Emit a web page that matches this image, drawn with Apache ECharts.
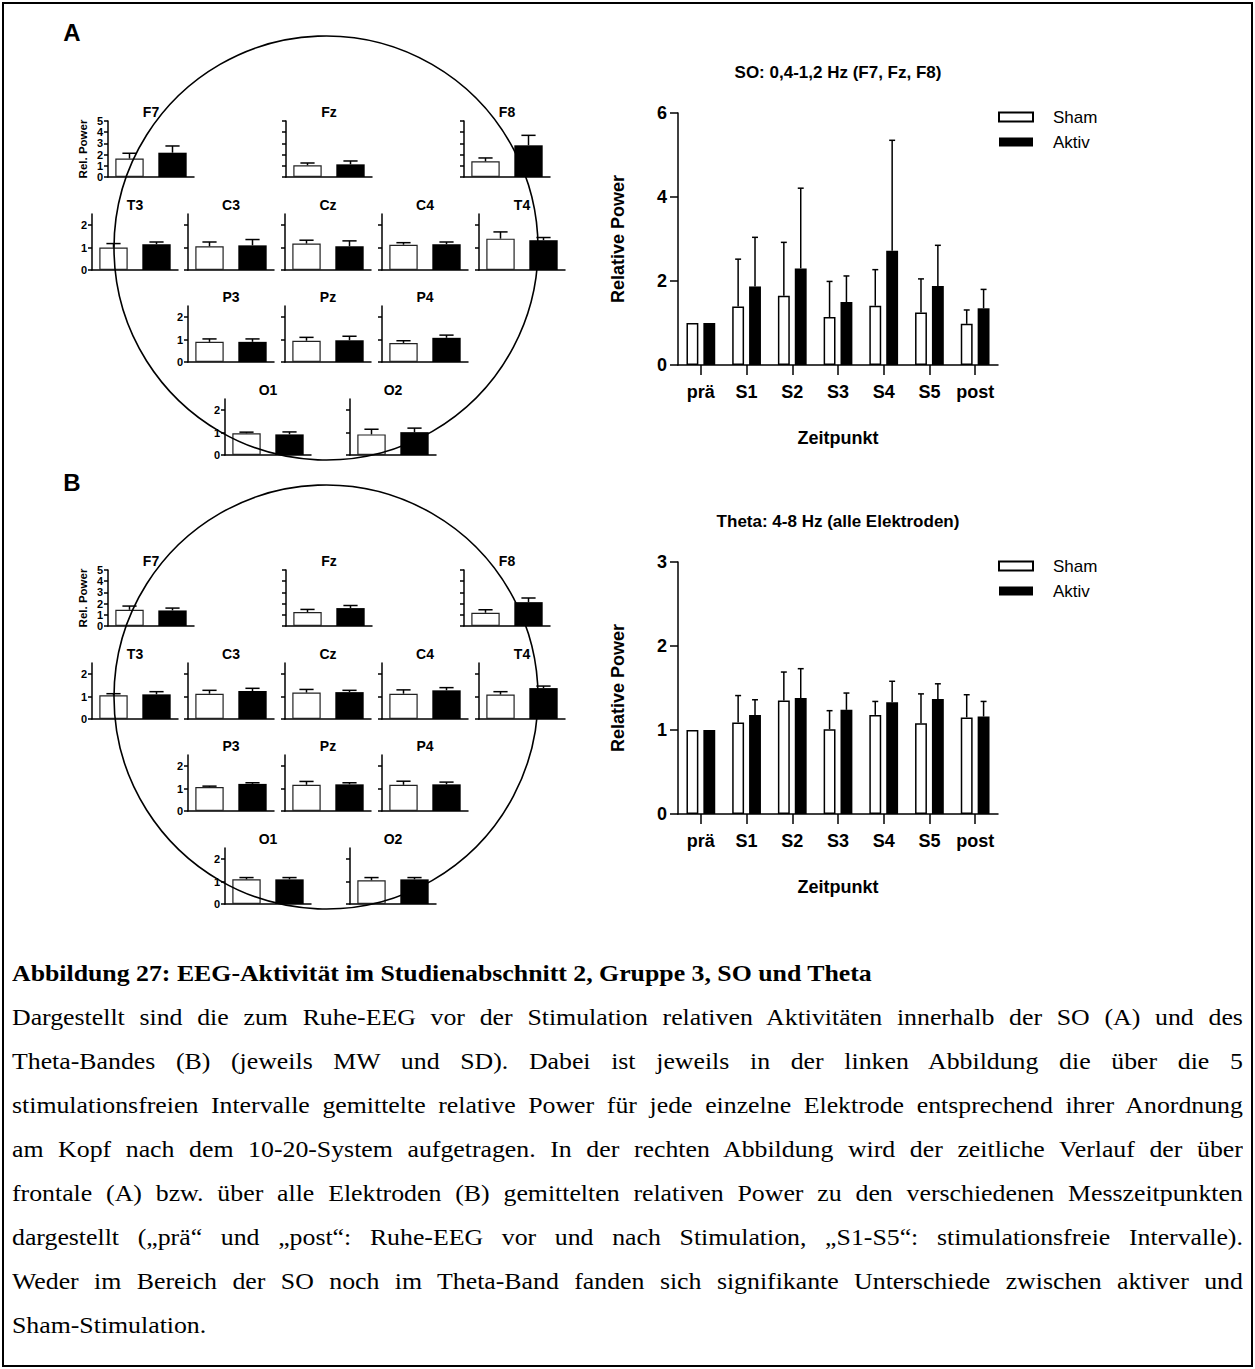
<!DOCTYPE html>
<html>
<head>
<meta charset="utf-8">
<script src="https://cdn.jsdelivr.net/npm/echarts@6/dist/echarts.min.js"></script>
<style>
  html, body { margin: 0; padding: 0; background: #fff; }
  #page { position: relative; width: 1255px; height: 1369px; overflow: hidden; background: #fff; }
  #frame { position: absolute; left: 2px; top: 2px; width: 1251px; height: 1365px; border: 2px solid #000; box-sizing: border-box; pointer-events: none; }
  #chart { position: absolute; left: 0; top: 0; width: 1255px; height: 940px; }
  #caption { position: absolute; left: 12px; top: 951px; width: 1145px; transform: scaleX(1.075); transform-origin: 0 0;
             font-family: 'Liberation Serif', 'Times New Roman', serif; font-size: 24px; color: #000; }
  #caption .ln { height: 44px; line-height: 44px; text-align: justify; text-align-last: justify; white-space: nowrap; }
  #caption .head { height: 44px; line-height: 44px; font-weight: bold; white-space: nowrap; }
  #caption .last { text-align-last: left; }
</style>
</head>
<body>
<div id="page">
  <div id="chart"></div>
  <div id="caption">
    <div class="head">Abbildung 27: EEG-Aktivität im Studienabschnitt 2, Gruppe 3, SO und Theta</div>
    <div class="ln">Dargestellt sind die zum Ruhe-EEG vor der Stimulation relativen Aktivitäten innerhalb der SO (A) und des</div>
    <div class="ln">Theta-Bandes (B) (jeweils MW und SD). Dabei ist jeweils in der linken Abbildung die über die 5</div>
    <div class="ln">stimulationsfreien Intervalle gemittelte relative Power für jede einzelne Elektrode entsprechend ihrer Anordnung</div>
    <div class="ln">am Kopf nach dem 10-20-System aufgetragen. In der rechten Abbildung wird der zeitliche Verlauf der über</div>
    <div class="ln">frontale (A) bzw. über alle Elektroden (B) gemittelten relativen Power zu den verschiedenen Messzeitpunkten</div>
    <div class="ln">dargestellt („prä“ und „post“: Ruhe-EEG vor und nach Stimulation, „S1-S5“: stimulationsfreie Intervalle).</div>
    <div class="ln">Weder im Bereich der SO noch im Theta-Band fanden sich signifikante Unterschiede zwischen aktiver und</div>
    <div class="ln last">Sham-Stimulation.</div>
  </div>
  <div id="frame"></div>
</div>
<script>
// ---- data ----------------------------------------------------------------
const groups = ['Sham', 'Aktiv'];
const electrodes = ['F7', 'Fz', 'F8', 'T3', 'C3', 'Cz', 'C4', 'T4', 'P3', 'Pz', 'P4', 'O1', 'O2'];

// SO band, mean over the 5 stimulation-free intervals (MW, SD)
const soShamMean  = [1.65, 1.05, 1.40, 1.00, 1.06, 1.18, 1.13, 1.40, 0.90, 0.95, 0.85, 0.97, 0.92];
const soShamSD    = [0.47, 0.20, 0.30, 0.18, 0.19, 0.15, 0.09, 0.30, 0.13, 0.15, 0.10, 0.05, 0.23];
const soAktivMean = [2.17, 1.13, 2.83, 1.15, 1.10, 1.06, 1.15, 1.33, 0.90, 0.97, 1.08, 0.92, 1.02];
const soAktivSD   = [0.60, 0.30, 0.89, 0.10, 0.26, 0.24, 0.10, 0.12, 0.13, 0.18, 0.12, 0.11, 0.18];

// Theta band
const thShamMean  = [1.45, 1.24, 1.18, 1.06, 1.13, 1.18, 1.13, 1.09, 1.07, 1.17, 1.17, 1.10, 1.06];
const thShamSD    = [0.33, 0.24, 0.27, 0.07, 0.15, 0.14, 0.17, 0.13, 0.04, 0.15, 0.16, 0.08, 0.12];
const thAktivMean = [1.39, 1.60, 2.13, 1.10, 1.25, 1.20, 1.28, 1.38, 1.21, 1.19, 1.19, 1.10, 1.10];
const thAktivSD   = [0.21, 0.23, 0.37, 0.12, 0.12, 0.08, 0.12, 0.09, 0.05, 0.07, 0.10, 0.08, 0.08];

// Time course
const timepoints = ['prä', 'S1', 'S2', 'S3', 'S4', 'S5', 'post'];
const soTimeShamMean  = [1.00, 1.39, 1.65, 1.14, 1.41, 1.25, 0.98];
const soTimeShamSD    = [0.00, 1.13, 1.27, 0.85, 0.86, 0.80, 0.33];
const soTimeAktivMean = [1.00, 1.87, 2.30, 1.50, 2.72, 1.88, 1.35];
const soTimeAktivSD   = [0.00, 1.17, 1.91, 0.62, 2.63, 0.97, 0.45];
const thTimeShamMean  = [1.00, 1.09, 1.35, 1.01, 1.18, 1.08, 1.15];
const thTimeShamSD    = [0.00, 0.32, 0.34, 0.22, 0.16, 0.35, 0.27];
const thTimeAktivMean = [1.00, 1.18, 1.38, 1.24, 1.33, 1.37, 1.16];
const thTimeAktivSD   = [0.00, 0.18, 0.35, 0.20, 0.25, 0.18, 0.18];

const headTickLabels = [0, 1, 2];

// ---- layout ----------------------------------------------------------------
const FONT = "'Liberation Sans', Arial, Helvetica, sans-serif";
const INK = '#000';

// 10-20 placement of the small plots (left edge of each plot, row index)
const slots = [
  { left: 108, row: 0 }, { left: 286, row: 0 }, { left: 464, row: 0 },
  { left: 92, row: 1 }, { left: 188, row: 1 }, { left: 285, row: 1 }, { left: 382, row: 1 }, { left: 479, row: 1 },
  { left: 188, row: 2 }, { left: 285, row: 2 }, { left: 382, row: 2 },
  { left: 225, row: 3 }, { left: 350, row: 3 }
];
const rowZero = [177, 270, 362, 455];
const rowMax = [5, 2.5, 2.5, 2.5];
const PLOT_W = 86, PLOT_H = 56;
const labelled = [0, 3, 8, 11];

const option = {
  animation: false,
  backgroundColor: '#fff',
  grid: [], xAxis: [], yAxis: [], series: [], legend: [],
  graphic: { elements: [] }
};

function txt(x, y, text, size, weight, align) {
  return {
    type: 'text', x: x, y: y, z: 50, silent: true,
    style: {
      text: text, fill: INK, fontFamily: FONT, fontSize: size, fontWeight: weight || 'bold',
      align: align || 'center', verticalAlign: 'middle',
      textAlign: align || 'center', textVerticalAlign: 'middle'
    }
  };
}

// upward SD whiskers with cap, placed from the series' own axes
function errorSeries(axisIdx, rows, offsetFrac, capFrac) {
  return {
    type: 'custom', xAxisIndex: axisIdx, yAxisIndex: axisIdx, z: 5, silent: true,
    data: rows, encode: { x: 0, y: 1 },
    renderItem: function (params, api) {
      const sd = api.value(2);
      if (!sd) return;
      const band = api.size([1, 0])[0];
      const base = api.coord([api.value(0), api.value(1)]);
      const top = api.coord([api.value(0), api.value(1) + sd]);
      const x = base[0] + band * offsetFrac;
      const half = band * capFrac / 2;
      const st = { stroke: INK, lineWidth: 1.5 };
      return {
        type: 'group', children: [
          { type: 'line', shape: { x1: x, y1: base[1], x2: x, y2: top[1] }, style: st },
          { type: 'line', shape: { x1: x - half, y1: top[1], x2: x + half, y2: top[1] }, style: st }
        ]
      };
    }
  };
}

function addHead(dy, shamM, shamS, aktM, aktS) {
  electrodes.forEach(function (name, i) {
    const s = slots[i];
    const idx = option.grid.length;
    const top = rowZero[s.row] - PLOT_H + dy;
    option.grid.push({ left: s.left, top: top, width: PLOT_W, height: PLOT_H, outerBoundsMode: 'none' });
    option.xAxis.push({
      type: 'category', gridIndex: idx, data: groups, boundaryGap: true,
      axisLine: { show: true, lineStyle: { color: INK, width: 1.5 } },
      axisTick: { show: false }, axisLabel: { show: false }, splitLine: { show: false }
    });
    const max = rowMax[s.row];
    const showLab = labelled.indexOf(i) >= 0;
    const yAx = {
      type: 'value', gridIndex: idx, min: 0, max: max, interval: 1,
      axisLine: { show: true, lineStyle: { color: INK, width: 1.5 } },
      axisTick: { show: true, inside: false, length: 4, lineStyle: { color: INK, width: 1.5 } },
      axisLabel: { show: showLab, color: INK, fontFamily: FONT, fontWeight: 'bold', fontSize: 11, margin: 5 },
      splitLine: { show: false }
    };
    if (max !== 5) {
      yAx.axisTick.customValues = headTickLabels;
      yAx.axisLabel.customValues = headTickLabels;
    }
    if (i === 0) {
      yAx.name = 'Rel. Power';
      yAx.nameLocation = 'middle';
      yAx.nameRotate = 90;
      yAx.nameGap = 19;
      yAx.nameTextStyle = { color: INK, fontFamily: FONT, fontWeight: 'bold', fontSize: 11.5 };
    }
    option.yAxis.push(yAx);
    option.series.push({
      type: 'bar', xAxisIndex: idx, yAxisIndex: idx, barWidth: '66%', silent: true,
      data: [
        { value: shamM[i], itemStyle: { color: '#fff', borderColor: '#222', borderWidth: 1.2 } },
        { value: aktM[i], itemStyle: { color: INK, borderWidth: 0 } }
      ]
    });
    option.series.push(errorSeries(idx, [[0, shamM[i], shamS[i]], [1, aktM[i], aktS[i]]], 0, 0.33));
    option.graphic.elements.push(txt(s.left + PLOT_W / 2, top - 9, name, 14));
  });
  option.graphic.elements.push({
    type: 'circle', z: 100, silent: true,
    shape: { cx: 326, cy: 248 + dy, r: 212 },
    style: { fill: 'none', stroke: INK, lineWidth: 1.6 }
  });
}

function addTimeCourse(dy, max, interval, title, shamM, shamS, aktM, aktS) {
  const idx = option.grid.length;
  const top = 113 + dy, height = 252;
  option.grid.push({ left: 678, top: top, width: 320, height: height, outerBoundsMode: 'none' });
  option.xAxis.push({
    type: 'category', gridIndex: idx, data: timepoints, boundaryGap: true,
    name: 'Zeitpunkt', nameLocation: 'middle', nameGap: 64,
    nameTextStyle: { color: INK, fontFamily: FONT, fontWeight: 'bold', fontSize: 18 },
    axisLine: { show: true, lineStyle: { color: INK, width: 1.5 } },
    axisTick: { show: true, alignWithLabel: true, inside: false, length: 10, lineStyle: { color: INK, width: 1.5 } },
    axisLabel: { color: INK, fontFamily: FONT, fontWeight: 'bold', fontSize: 18, margin: 18, interval: 0 },
    splitLine: { show: false }
  });
  option.yAxis.push({
    type: 'value', gridIndex: idx, min: 0, max: max, interval: interval,
    name: 'Relative Power', nameLocation: 'middle', nameRotate: 90, nameGap: 51,
    nameTextStyle: { color: INK, fontFamily: FONT, fontWeight: 'bold', fontSize: 18 },
    axisLine: { show: true, lineStyle: { color: INK, width: 1.5 } },
    axisTick: { show: true, inside: false, length: 8, lineStyle: { color: INK, width: 1.5 } },
    axisLabel: { color: INK, fontFamily: FONT, fontWeight: 'bold', fontSize: 18, margin: 11 },
    splitLine: { show: false }
  });
  option.series.push({
    name: 'Sham', type: 'bar', xAxisIndex: idx, yAxisIndex: idx, barWidth: '26%', barGap: '42%', silent: true,
    itemStyle: { color: '#fff', borderColor: INK, borderWidth: 1.5 },
    data: shamM
  });
  option.series.push({
    name: 'Aktiv', type: 'bar', xAxisIndex: idx, yAxisIndex: idx, barWidth: '26%', barGap: '42%', silent: true,
    itemStyle: { color: INK },
    data: aktM
  });
  const off = 0.26 * 1.42 / 2;
  option.series.push(errorSeries(idx, shamM.map(function (v, k) { return [k, v, shamS[k]]; }), -off, 0.13));
  option.series.push(errorSeries(idx, aktM.map(function (v, k) { return [k, v, aktS[k]]; }), off, 0.13));
  option.legend.push({
    data: groups, orient: 'vertical', left: 998, top: top - 6, padding: 0,
    itemWidth: 34, itemHeight: 9, itemGap: 5,
    icon: 'rect', selectedMode: false,
    textStyle: { color: INK, fontFamily: FONT, fontSize: 17, lineHeight: 20, padding: [0, 0, 0, 15] }
  });
  option.graphic.elements.push(txt(838, 72 + dy, title, 17));
}

addHead(0, soShamMean, soShamSD, soAktivMean, soAktivSD);
addHead(449, thShamMean, thShamSD, thAktivMean, thAktivSD);
addTimeCourse(0, 6, 2, 'SO: 0,4-1,2 Hz (F7, Fz, F8)', soTimeShamMean, soTimeShamSD, soTimeAktivMean, soTimeAktivSD);
addTimeCourse(449, 3, 1, 'Theta: 4-8 Hz (alle Elektroden)', thTimeShamMean, thTimeShamSD, thTimeAktivMean, thTimeAktivSD);

option.graphic.elements.push(txt(72, 32, 'A', 24));
option.graphic.elements.push(txt(72, 482, 'B', 24));

const chart = echarts.init(document.getElementById('chart'), null, { renderer: 'svg' });
chart.setOption(option);
</script>
</body>
</html>
